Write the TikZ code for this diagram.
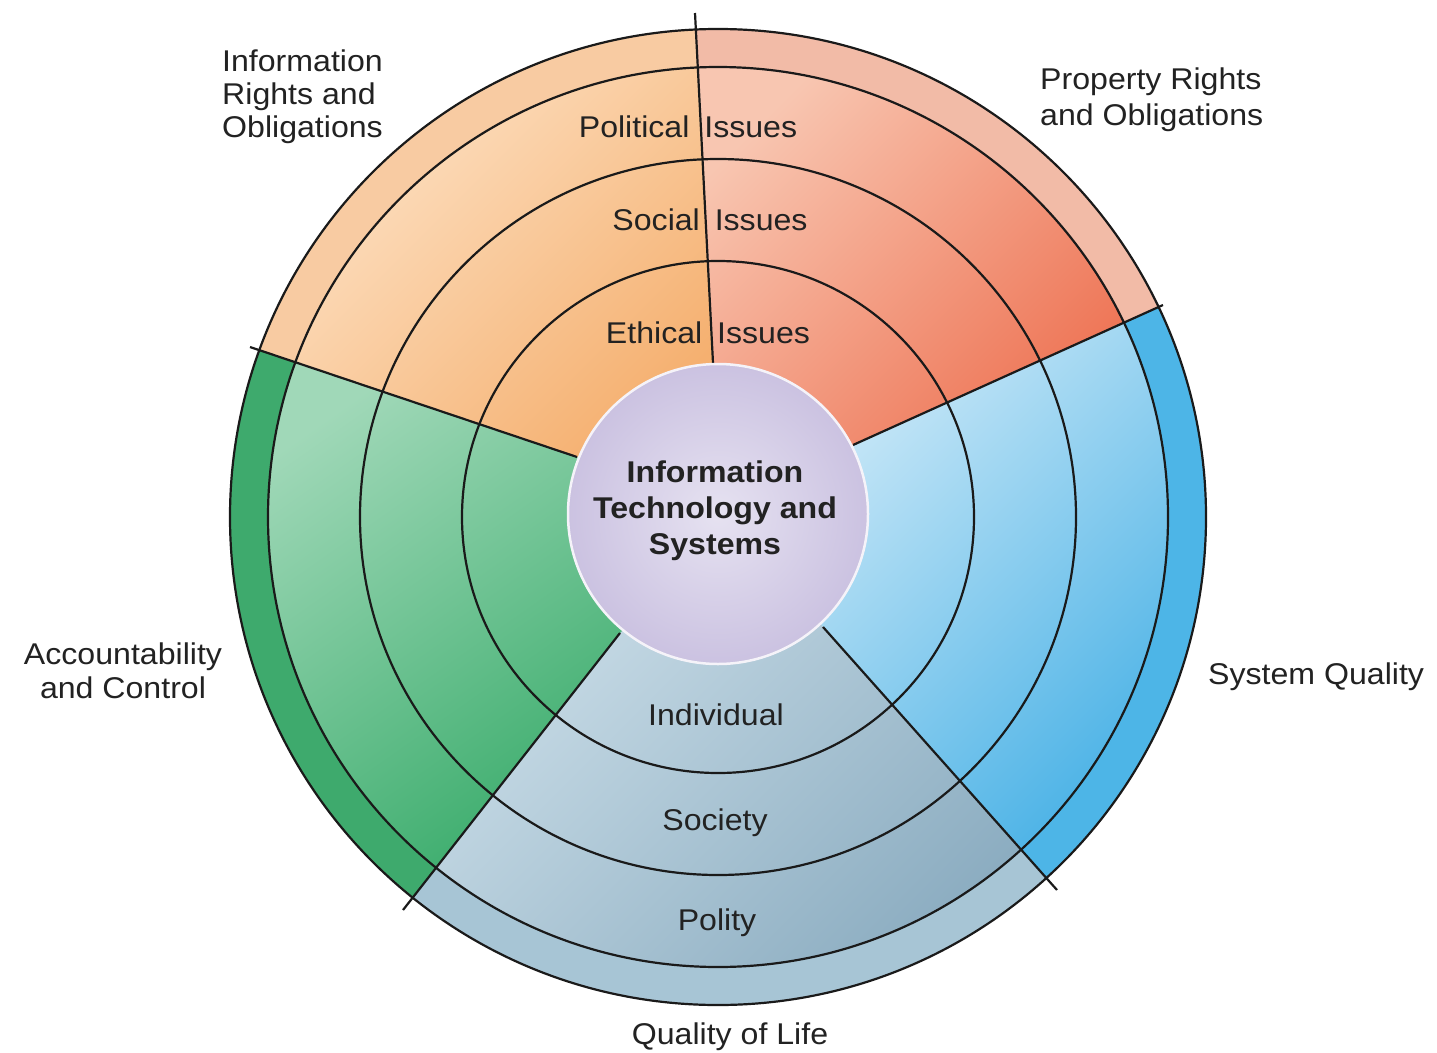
\documentclass[tikz,border=0pt]{standalone}
\usepackage{fontspec}
\setmainfont[FakeStretch=1.07]{Liberation Sans}
\definecolor{irOuter}{HTML}{F8CBA2}
\definecolor{irLight}{HTML}{FDE2C5}
\definecolor{irDark}{HTML}{F5B070}
\definecolor{prOuter}{HTML}{F2BBA7}
\definecolor{prLight}{HTML}{F8C6B1}
\definecolor{prDark}{HTML}{EE7455}
\definecolor{sqOuter}{HTML}{4DB5E7}
\definecolor{sqLight}{HTML}{C8E7F7}
\definecolor{sqDark}{HTML}{4AB2E6}
\definecolor{qlOuter}{HTML}{A7C5D5}
\definecolor{qlLight}{HTML}{C6DAE5}
\definecolor{qlDark}{HTML}{8CADC1}
\definecolor{acOuter}{HTML}{3EAA6D}
\definecolor{acLight}{HTML}{A0D8B8}
\definecolor{acDark}{HTML}{3CAD6D}
\definecolor{ctrIn}{HTML}{E6E2F1}
\definecolor{ctrOut}{HTML}{CBC2E1}
\definecolor{ink}{HTML}{1A1A1A}
\definecolor{txt}{HTML}{222222}
\begin{document}
\begin{tikzpicture}[x=1pt,y=-1pt,
  ring/.style={draw=ink, line width=2.2pt},
  divider/.style={draw=ink, line width=2.2pt},
  lbl/.style={font=\fontsize{30}{33}\selectfont, text=txt, inner sep=0pt},
  ctrlbl/.style={font=\fontsize{30}{36}\selectfont\bfseries, text=txt, inner sep=0pt, align=center}]
\useasboundingbox (0,0) rectangle (1437,1052);
\fill[white] (0,0) rectangle (1437,1052);
\coordinate (C) at (718,517);
\coordinate (Ta) at (695,13);   \coordinate (Tb) at (713,363);
\coordinate (ULa) at (250,347); \coordinate (ULb) at (577,457);
\coordinate (URa) at (1163,305); \coordinate (URb) at (853,445);
\coordinate (LLa) at (403,910); \coordinate (LLb) at (620,633);
\coordinate (LRa) at (1057,890); \coordinate (LRb) at (823,627);
\coordinate (Tx) at (684,-200);
\coordinate (ULx) at (-100,229);
\coordinate (URx) at (1500,153);
\coordinate (LLx) at (176,1200);
\coordinate (LRx) at (1333,1200);
% Information Rights sector
\begin{scope}
  \clip (C) -- (ULb) -- (ULx) -- (-100,-200) -- (Tx) -- (Tb) -- cycle;
  \fill[irOuter] (C) circle[radius=488pt];
  \begin{scope}
    \clip (C) circle[radius=450pt];
    \shade[top color=irLight, bottom color=irDark, shading angle=45] (290,60) rectangle (720,465);
  \end{scope}
\end{scope}
% Property Rights sector
\begin{scope}
  \clip (C) -- (Tb) -- (Tx) -- (1500,-200) -- (URx) -- (URb) -- cycle;
  \fill[prOuter] (C) circle[radius=488pt];
  \begin{scope}
    \clip (C) circle[radius=450pt];
    \shade[top color=prLight, bottom color=prDark, shading angle=45] (700,60) rectangle (1130,450);
  \end{scope}
\end{scope}
% System Quality sector
\begin{scope}
  \clip (C) -- (URb) -- (URx) -- (1500,1200) -- (LRx) -- (LRb) -- cycle;
  \fill[sqOuter] (C) circle[radius=488pt];
  \begin{scope}
    \clip (C) circle[radius=450pt];
    \shade[top color=sqLight, bottom color=sqDark, shading angle=45] (820,310) rectangle (1175,860);
  \end{scope}
\end{scope}
% Quality of Life sector
\begin{scope}
  \clip (C) -- (LRb) -- (LRx) -- (LLx) -- (LLb) -- cycle;
  \fill[qlOuter] (C) circle[radius=488pt];
  \begin{scope}
    \clip (C) circle[radius=450pt];
    \shade[top color=qlLight, bottom color=qlDark, shading angle=45] (430,620) rectangle (1030,975);
  \end{scope}
\end{scope}
% Accountability sector
\begin{scope}
  \clip (C) -- (LLb) -- (LLx) -- (-100,1200) -- (ULx) -- (ULb) -- cycle;
  \fill[acOuter] (C) circle[radius=488pt];
  \begin{scope}
    \clip (C) circle[radius=450pt];
    \shade[top color=acLight, bottom color=acDark, shading angle=35] (260,355) rectangle (625,875);
  \end{scope}
\end{scope}
% rings
\draw[ring] (C) circle[radius=488pt];
\draw[ring] (C) circle[radius=450pt];
\draw[ring] (C) circle[radius=358pt];
\draw[ring] (C) circle[radius=256pt];
% dividers
\draw[divider] (Ta) -- (Tb);
\draw[divider] (ULa) -- (ULb);
\draw[divider] (URa) -- (URb);
\draw[divider] (LLa) -- (LLb);
\draw[divider] (LRa) -- (LRb);
% center
\shade[inner color=ctrIn, outer color=ctrOut, draw=white!80!ctrOut, line width=2.5pt] (718,514) circle[radius=150pt];
\node[ctrlbl, anchor=north] (core) at (715,461) {Information\\Technology and\\Systems};
% inner labels
\node[lbl, anchor=base] (pol) at (688,137) {Political\hspace{6pt} Issues};
\node[lbl, anchor=base] (soc) at (710,230) {Social\hspace{6pt} Issues};
\node[lbl, anchor=base] (eth) at (708,343) {Ethical\hspace{6pt} Issues};
\node[lbl, anchor=base] (ind) at (716,725) {Individual};
\node[lbl, anchor=base] (sty) at (715,830) {Society};
\node[lbl, anchor=base] (plt) at (717,930) {Polity};
% outer labels
\node[lbl, anchor=north west, align=left] (ir) at (222,50) {Information\\Rights and\\Obligations};
\node[lbl, anchor=north west, align=left, font=\fontsize{30}{36}\selectfont] (pr) at (1040,68) {Property Rights\\and Obligations};
\node[lbl, anchor=north, align=center, font=\fontsize{30}{34}\selectfont] (ac) at (123,643) {Accountability\\and Control};
\node[lbl, anchor=base west] (sq) at (1208,684) {System Quality};
\node[lbl, anchor=base] (ql) at (730,1044) {Quality of Life};
\end{tikzpicture}
\end{document}
